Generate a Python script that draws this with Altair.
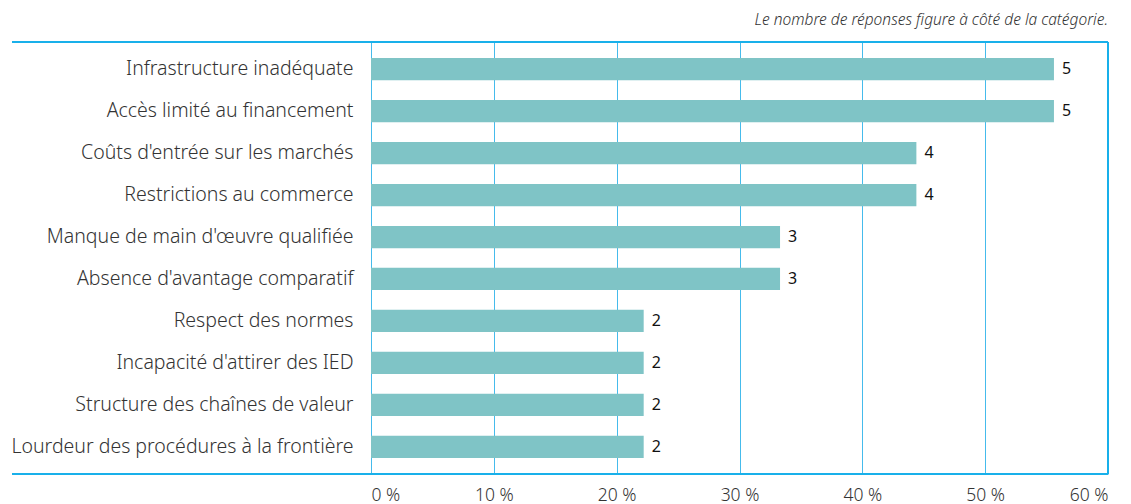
import altair as alt
import pandas as pd

categories = [
    "Infrastructure inadéquate",
    "Accès limité au financement",
    "Coûts d'entrée sur les marchés",
    "Restrictions au commerce",
    "Manque de main d'œuvre qualifiée",
    "Absence d'avantage comparatif",
    "Respect des normes",
    "Incapacité d'attirer des IED",
    "Structure des chaînes de valeur",
    "Lourdeur des procédures à la frontière",
]
shares = [55.6, 55.6, 44.4, 44.4, 33.3, 33.3, 22.2, 22.2, 22.2, 22.2]
counts = [5, 5, 4, 4, 3, 3, 2, 2, 2, 2]
x_ticks = [0, 10, 20, 30, 40, 50, 60]
subtitle = "Le nombre de réponses figure à côté de la catégorie."

df = pd.DataFrame({"cat": categories, "share": shares, "n": counts})

W, H = 737, 432
FONT = "Noto Sans"
LINE = "#1ab0ea"

x_enc = alt.X(
    "share:Q",
    scale=alt.Scale(domain=[0, 60], nice=False),
    axis=alt.Axis(
        values=x_ticks,
        labelExpr="datum.value + ' %'",
        title=None,
        domain=False,
        ticks=False,
        grid=True,
        gridColor="#45bbec",
        gridWidth=1,
        labelFont=FONT,
        labelFontSize=17.5,
        labelFontWeight=300,
        labelColor="#333333",
        labelPadding=12,
    ),
)
y_enc = alt.Y(
    "cat:N",
    sort=categories,
    scale=alt.Scale(paddingInner=0.47, paddingOuter=0.38),
    axis=alt.Axis(
        title=None,
        domain=False,
        ticks=False,
        labelFont=FONT,
        labelFontSize=19.5,
        labelFontWeight=300,
        labelColor="#333333",
        labelPadding=18,
        labelLimit=400,
    ),
)

base = alt.Chart(df)
bars = base.mark_bar(color="#7fc4c6").encode(x=x_enc, y=y_enc)
labels = base.mark_text(
    align="left", baseline="middle", dx=8, font=FONT, fontSize=16, color="#111111"
).encode(x="share:Q", y=alt.Y("cat:N", sort=categories), text="n:Q")

top_rule = base.mark_rule(color=LINE, strokeWidth=1.3).encode(
    x=alt.value(-359), x2=alt.value(W), y=alt.value(0)
)
bottom_rule = base.mark_rule(color=LINE, strokeWidth=1.3).encode(
    x=alt.value(-359), x2=alt.value(W), y=alt.value(H)
)
right_rule = base.mark_rule(color=LINE, strokeWidth=1.3).encode(
    x=alt.value(W), y=alt.value(0), y2=alt.value(H)
)
sub = alt.Chart(pd.DataFrame({"t": [subtitle]})).mark_text(
    align="right", baseline="alphabetic", font=FONT, fontSize=15.5, fontStyle="italic",
    fontWeight=300, color="#333333"
).encode(x=alt.value(W), y=alt.value(-17), text="t:N")

chart = (
    alt.layer(bars, labels, top_rule, bottom_rule, right_rule, sub)
    .properties(
        width=W,
        height=H,
        autosize=alt.AutoSizeParams(type="none"),
        padding={"left": 363, "top": 34, "right": 15, "bottom": 30},
    )
    .configure_view(stroke=None)
)

chart.save("out.html", embed_options={"renderer": "svg", "actions": False})
